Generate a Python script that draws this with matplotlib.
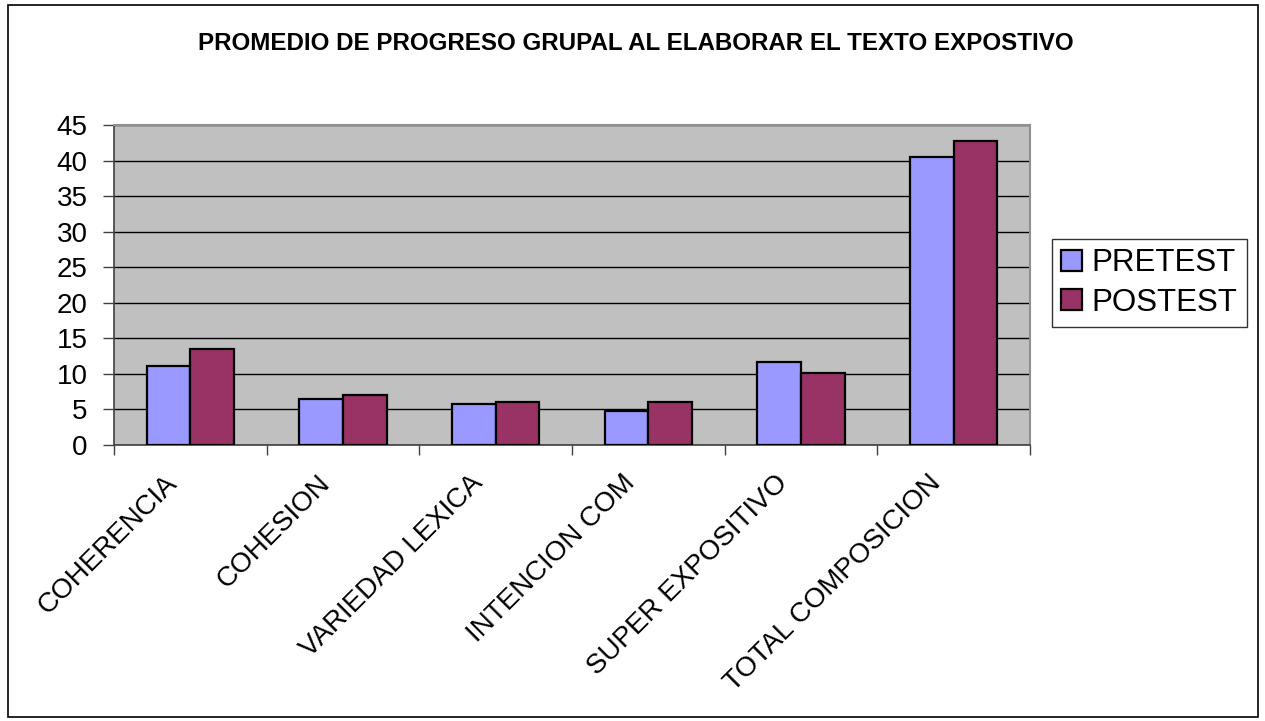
import matplotlib.pyplot as plt
import matplotlib.transforms as mtransforms
from matplotlib.patches import Rectangle
import numpy as np

categories = ['COHERENCIA', 'COHESION', 'VARIEDAD LEXICA', 'INTENCION COM',
              'SUPER EXPOSITIVO', 'TOTAL COMPOSICION']
pretest = [11.1, 6.4, 5.8, 4.85, 11.65, 40.45]
postest = [13.5, 7.0, 6.1, 6.05, 10.1, 42.8]
yticks = np.arange(0, 46, 5)

plt.rcParams['font.family'] = ['Liberation Sans', 'DejaVu Sans']

fig = plt.figure(figsize=(12.65, 7.21), dpi=100)
W, H = 1265, 721

# outer chart border
fig.patches.append(Rectangle((8 / W, 1 - 717 / H), 1250 / W, 712 / H,
                             transform=fig.transFigure, fill=False,
                             edgecolor='black', lw=1.2))

ax = fig.add_axes([114 / W, 1 - 445 / H, 916 / W, 320 / H])
ax.set_facecolor('#C0C0C0')

x = np.arange(len(categories))
bw = 1 / 3.5
ax.bar(x - bw / 2, pretest, bw, color='#9999FF', edgecolor='black',
       lw=1.6, label='PRETEST', zorder=3)
ax.bar(x + bw / 2, postest, bw, color='#993366', edgecolor='black',
       lw=1.6, label='POSTEST', zorder=3)

ax.set_xlim(-0.5, len(categories) - 0.5)
ax.set_ylim(0, 45)
ax.set_yticks(yticks)
ax.tick_params(axis='y', labelsize=20, length=8, width=1, color='#404040', pad=11)
ax.yaxis.grid(True, color='black', lw=1, zorder=1)
ax.set_axisbelow(True)

ax.set_xticks(x)
ax.set_xticklabels(categories, rotation=45, ha='right', va='top', fontsize=20)
ax.tick_params(axis='x', which='major', length=0, pad=18)
ax.set_xticks(np.arange(-0.5, len(categories), 1), minor=True)
ax.tick_params(axis='x', which='minor', length=7, width=1, color='#404040')
offset = mtransforms.ScaledTranslation(-8 / 100, 0, fig.dpi_scale_trans)
for lab in ax.get_xticklabels():
    lab.set_transform(lab.get_transform() + offset)

for s in ['top', 'right']:
    ax.spines[s].set_color('#909090')
    ax.spines[s].set_linewidth(1.5)
for s in ['left', 'bottom']:
    ax.spines[s].set_color('#404040')
    ax.spines[s].set_linewidth(1.2)

fig.text(0.503, 1 - 43 / H, 'PROMEDIO DE PROGRESO GRUPAL AL ELABORAR EL TEXTO EXPOSTIVO',
         ha='center', va='center', fontsize=17.4, fontweight='bold')

leg = fig.legend(loc='upper left', bbox_to_anchor=(1052 / W, 1 - 239 / H),
                 fontsize=22.5, frameon=True, fancybox=False, edgecolor='black',
                 handlelength=0.66, handleheight=0.66, handletextpad=0.3,
                 labelspacing=0.3, borderpad=0.3, borderaxespad=0)
leg.get_frame().set_linewidth(1)

fig.savefig('out.png', dpi=100)
